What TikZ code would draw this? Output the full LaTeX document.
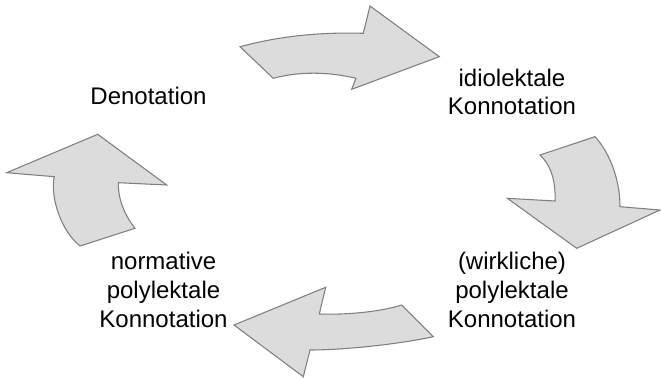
\documentclass[tikz,border=0pt]{standalone}
\usepackage{fontspec}
\setmainfont{Liberation Sans}
\definecolor{arrowfill}{HTML}{DCDCDC}
\definecolor{arrowline}{HTML}{7F7F7F}
\begin{document}
\begin{tikzpicture}[x=0.75pt,y=-0.75pt,
  bigarrow/.style={fill=arrowfill,draw=arrowline,line width=0.8pt,line join=miter},
  label/.style={align=center,font=\fontsize{18}{21.6}\selectfont,inner sep=0pt}]
\useasboundingbox (0,0) rectangle (661,378);
% top arrow (to the right)
\path[bigarrow] (240,46.7) .. controls (280,36) and (320,32) .. (363.3,33.3)
  -- (370,6) -- (439.3,56.7) -- (351.7,89.3) -- (356,78.3)
  .. controls (330,72) and (300,71) .. (273.3,78.3) -- cycle;
% right arrow (downwards)
\path[bigarrow] (540,155) -- (595,136.7) .. controls (610,153) and (620,180) .. (620,206.7)
  -- (660,210) -- (576.7,248.3) -- (507.3,198.3) -- (555,201)
  .. controls (556,180) and (550,164) .. (540,155) -- cycle;
% bottom arrow (to the left)
\path[bigarrow] (401.7,305) -- (433.3,336.7) .. controls (400,344) and (345,350) .. (310,350)
  -- (303.3,376.7) -- (234,325) -- (325.7,287.3) -- (319.3,314)
  .. controls (345,315) and (380,312) .. (401.7,305) -- cycle;
% left arrow (upwards)
\path[bigarrow] (80,246) -- (135,228.3) .. controls (123,213) and (118,197) .. (118.3,182.7)
  -- (166.7,185) -- (97.7,134.3) -- (6.7,172.7) -- (54.3,176.7)
  .. controls (50,195) and (60,230) .. (80,246) -- cycle;
% labels
\node[label] (den) at (148.5,96) {Denotation};
\node[label] (idio) at (512,92) {idiolektale\\Konnotation};
\node[label] (wirk) at (512,290) {(wirkliche)\\polylektale\\Konnotation};
\node[label] (norm) at (163.5,290) {normative\\polylektale\\Konnotation};
\end{tikzpicture}
\end{document}
